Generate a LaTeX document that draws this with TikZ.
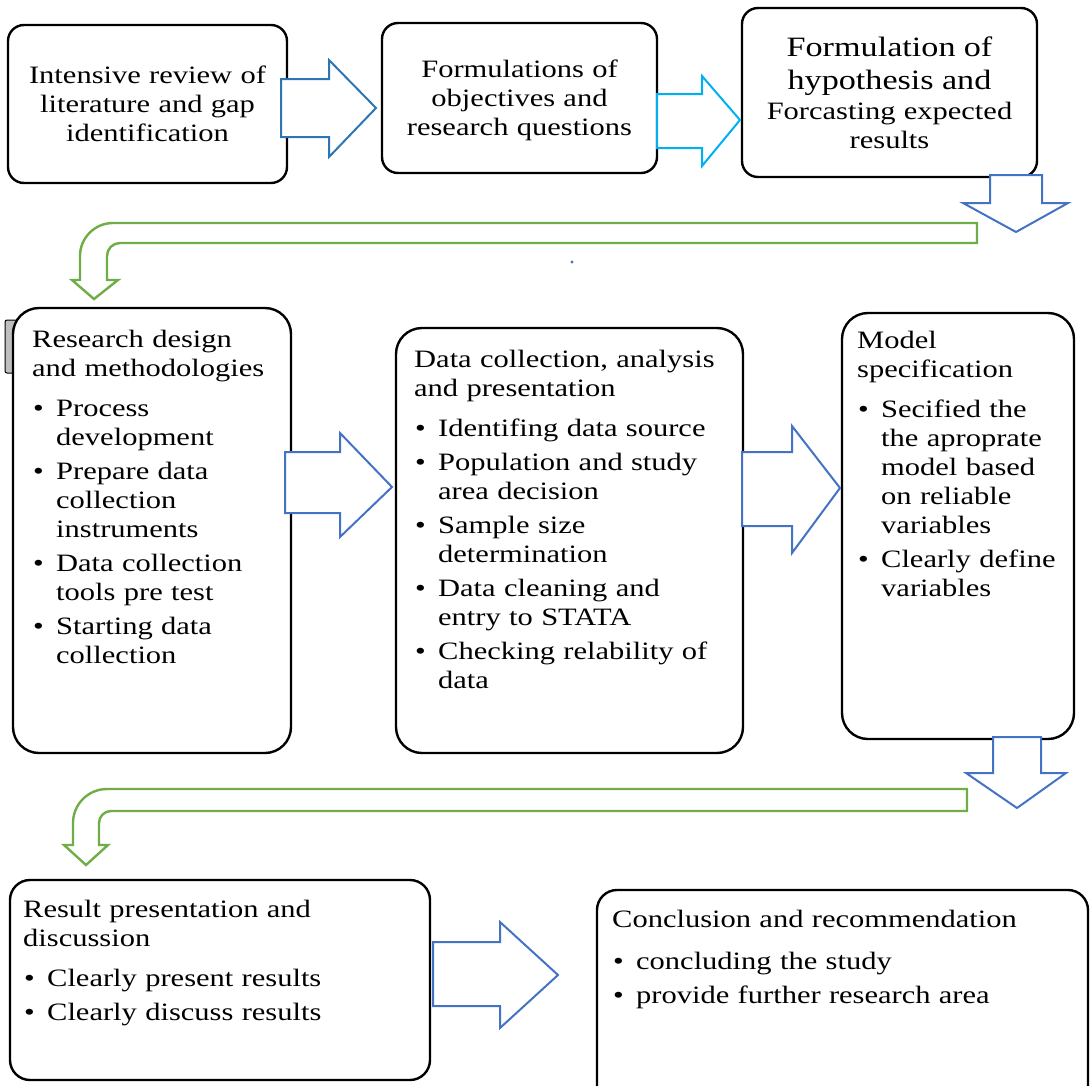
\documentclass[tikz,border=0pt]{standalone}
\usepackage{fontspec}
\setmainfont{Liberation Serif}[FakeStretch=1.22]
\usepackage{xcolor}
\usepackage{tikz}

\definecolor{arrblue}{HTML}{2E75B6}
\definecolor{arrcyan}{HTML}{00B0F0}
\definecolor{arrsteel}{HTML}{4472C4}
\definecolor{arrgreen}{HTML}{70AD47}
\definecolor{tabgray}{HTML}{BFBFBF}

\newcommand{\bodyfont}{\fontsize{25}{29}\selectfont}
\newcommand{\bitem}[1]{\par\vspace{5pt}\noindent\hangindent=24pt\hangafter=1\makebox[24pt][l]{\hspace{1pt}\textbullet}{\let\\\newline #1}\par}

\begin{document}
\begin{tikzpicture}[x=1pt, y=-1pt,
  box/.style={draw, line width=2.4pt, rounded corners=16pt, fill=white, inner sep=0pt, align=center, font=\bodyfont},
  txt/.style={anchor=base west, align=left, text width=440pt, inner sep=0pt, font=\bodyfont},
  bigarr/.style={draw=#1, line width=2pt, fill=white},
  greenarr/.style={draw=arrgreen, line width=2.4pt, fill=white}]
  \useasboundingbox (0,0) rectangle (1090,1085);
  \clip (0,0) rectangle (1090,1085);

  \node[box, text width=279pt, minimum height=158pt] (lit) at (147.5,104) {Intensive review of\\literature and gap\\identification};
  \node[box, text width=275pt, minimum height=150pt] (obj) at (519.5,98) {\rule{0pt}{23pt}Formulations of\\objectives and\\research questions};
  \node[box, text width=295pt, minimum height=169pt] (hyp) at (889.5,92.5) {\fontsize{28}{31}\selectfont Formulation of\\[2pt]hypothesis and\\[1pt]\bodyfont Forcasting expected\\results};

  \draw[fill=tabgray, rounded corners=2pt, line width=1pt] (5,320) rectangle (18,373);
  \node[box, rounded corners=26pt, minimum width=278pt, minimum height=445pt] (design) at (152,530.5) {};
  \node[box, rounded corners=26pt, minimum width=347pt, minimum height=425pt] (data) at (569.5,540.5) {};
  \node[box, rounded corners=26pt, minimum width=232pt, minimum height=426pt] (model) at (958,526) {};
  \node[box, rounded corners=20pt, minimum width=420pt, minimum height=200pt] (result) at (220,980) {};
  \node[box, rounded corners=20pt, minimum width=491pt, minimum height=220pt] (concl) at (842.5,1000) {};

  \node[txt] (designtxt) at (32,347) {Research design\\and methodologies\par\vspace{6pt}%
    \bitem{Process\\development}\bitem{Prepare data\\collection\\instruments}%
    \bitem{Data collection\\tools pre test}\bitem{Starting data\\collection}};
  \node[txt] (datatxt) at (414,367) {Data collection, analysis\\and presentation\par\vspace{6pt}%
    \bitem{Identifing data source}\bitem{Population and study\\area decision}%
    \bitem{Sample size\\determination}\bitem{Data cleaning and\\entry to STATA}%
    \bitem{Checking relability of\\data}};
  \node[txt] (modeltxt) at (857,348) {Model\\specification\par\vspace{6pt}%
    \bitem{Secified the\\the aproprate\\model based\\on reliable\\variables}%
    \bitem{Clearly define\\variables}};
  \node[txt] (resulttxt) at (23,917) {Result presentation and\\discussion\par\vspace{6pt}%
    \bitem{Clearly present results}\bitem{Clearly discuss results}};
  \node[txt] (concltxt) at (612,927) {Conclusion and recommendation\par\vspace{8pt}%
    \bitem{concluding the study}\bitem{provide further research area}};

  \draw[bigarr=arrblue] (281,79) -- (329,79) -- (329,60) -- (376,108) -- (329,157) -- (329,137) -- (281,137) -- cycle;
  \draw[bigarr=arrcyan] (657,94) -- (702,94) -- (702,76) -- (740,120) -- (702,166) -- (702,148) -- (657,148) -- cycle;
  \draw[bigarr=arrsteel] (990,175) -- (1042,175) -- (1042,203) -- (1068,203) -- (1016,232) -- (963,203) -- (990,203) -- cycle;
  \draw[greenarr] (977,223) -- (113,223) .. controls (94.8,223) and (80,237.8) .. (80,256) -- (80,280) -- (72,280)
    -- (94,299) -- (118,280) -- (107,280) -- (107,256) .. controls (107,248.8) and (112.8,243) .. (120,243) -- (977,243) -- cycle;
  \fill[arrsteel] (572,262) circle (1.6pt);
  \draw[bigarr=arrsteel] (285,452) -- (340,452) -- (340,433) -- (392,487) -- (340,537) -- (340,513) -- (285,513) -- cycle;
  \draw[bigarr=arrsteel] (742,452) -- (792,452) -- (792,426) -- (840,488) -- (792,553) -- (792,526) -- (742,526) -- cycle;
  \draw[bigarr=arrsteel] (993,737) -- (1041,737) -- (1041,773) -- (1066,773) -- (1017,808) -- (966,773) -- (993,773) -- cycle;
  \draw[greenarr] (967,789) -- (107,789) .. controls (88.2,789) and (73,804.2) .. (73,823) -- (73,845) -- (64,845)
    -- (86,865) -- (108,845) -- (99,845) -- (99,823) .. controls (99,816.4) and (104.4,811) .. (111,811) -- (967,811) -- cycle;
  \draw[bigarr=arrsteel] (433,942) -- (500,942) -- (500,922) -- (558,975) -- (500,1028) -- (500,1006) -- (433,1006) -- cycle;
\end{tikzpicture}
\end{document}
